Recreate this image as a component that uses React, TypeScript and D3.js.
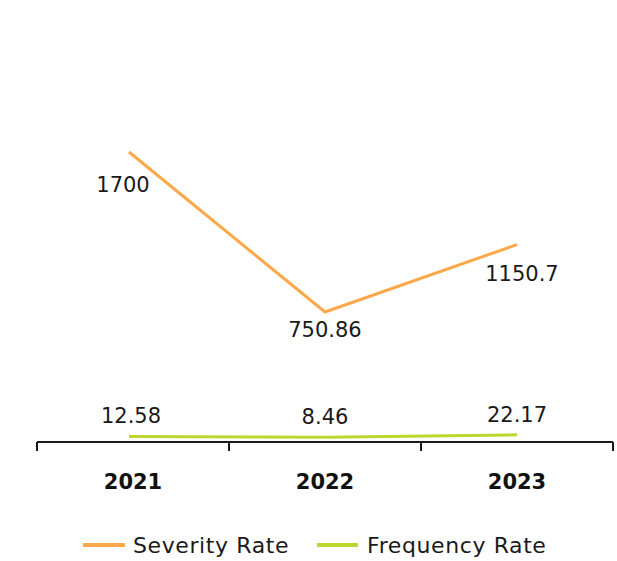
import React from "react";
import * as d3 from "d3";

const categories = ["2021", "2022", "2023"];
const severity = [1700, 750.86, 1150.7];
const frequency = [12.58, 8.46, 22.17];
const severityLabels = ["1700", "750.86", "1150.7"];
const frequencyLabels = ["12.58", "8.46", "22.17"];
const seriesNames = ["Severity Rate", "Frequency Rate"];

const W = 617;
const H = 561;
const ORANGE = "#FDA84A";
const GREEN = "#BDD72E";
const FONT = "'DejaVu Sans', 'Open Sans', sans-serif";

export default function App() {
  const x = d3.scaleBand<string>().domain(categories).range([37, 613]);
  const cx = (c: string) => (x(c) as number) + x.bandwidth() / 2;
  const y = d3.scaleLinear().domain([0, 2000]).range([438.6, 101.4]);
  const axisY = 442;

  const line = d3
    .line<number>()
    .x((_, i) => cx(categories[i]) + (i === 0 ? -4 : 0))
    .y((d) => y(d));

  const ticks = [37, ...categories.map((c) => (x(c) as number) + x.bandwidth())];

  const sevOffsets: [number, number][] = [
    [-10, 40],
    [0, 25],
    [5, 36],
  ];

  return (
    <svg
      width={W}
      height={H}
      style={{ position: "absolute", left: 0, top: 0, background: "#fff" }}
      fontFamily={FONT}
    >
      <path d={line(severity) || ""} fill="none" stroke={ORANGE} strokeWidth={3} strokeLinejoin="miter" />
      <path d={line(frequency) || ""} fill="none" stroke={GREEN} strokeWidth={3} />

      {severity.map((v, i) => (
        <text
          key={"s" + i}
          x={cx(categories[i]) + sevOffsets[i][0]}
          y={y(v) + sevOffsets[i][1]}
          textAnchor="middle"
          fontSize={21}
          fill="#1a1a1a"
        >
          {severityLabels[i]}
        </text>
      ))}
      {frequency.map((v, i) => (
        <text
          key={"f" + i}
          x={cx(categories[i]) - (i === 0 ? 2 : 0)}
          y={y(v) - 13}
          textAnchor="middle"
          fontSize={21}
          fill="#1a1a1a"
        >
          {frequencyLabels[i]}
        </text>
      ))}

      <line x1={37} x2={613} y1={axisY} y2={axisY} stroke="#1a1a1a" strokeWidth={2} />
      {ticks.map((t, i) => (
        <line key={"t" + i} x1={t} x2={t} y1={axisY} y2={axisY + 9} stroke="#1a1a1a" strokeWidth={2} />
      ))}
      {categories.map((c) => (
        <text key={c} x={cx(c)} y={489} textAnchor="middle" fontSize={21} fontWeight="bold" fill="#111">
          {c}
        </text>
      ))}

      <g>
        <line x1={83} x2={125} y1={545} y2={545} stroke={ORANGE} strokeWidth={4} />
        <text x={133} y={553} fontSize={22} letterSpacing={0.6} fill="#1a1a1a">
          {seriesNames[0]}
        </text>
        <line x1={317} x2={358} y1={545} y2={545} stroke={GREEN} strokeWidth={4} />
        <text x={367} y={553} fontSize={22} letterSpacing={0.6} fill="#1a1a1a">
          {seriesNames[1]}
        </text>
      </g>
    </svg>
  );
}
